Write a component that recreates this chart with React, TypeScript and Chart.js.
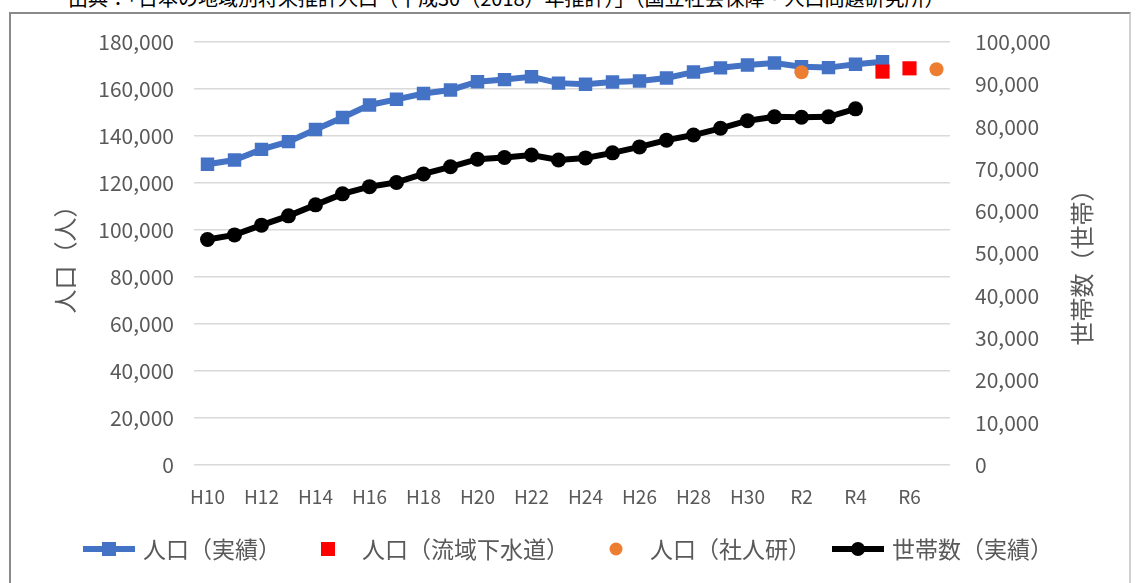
import React, { useEffect, useRef } from "react";
import { Chart, registerables } from "chart.js";

Chart.register(...registerables);

const categories = [
  "H10", "H11", "H12", "H13", "H14", "H15", "H16", "H17", "H18", "H19",
  "H20", "H21", "H22", "H23", "H24", "H25", "H26", "H27", "H28", "H29",
  "H30", "R1", "R2", "R3", "R4", "R5", "R6", "R7",
];

const populationActual = [
  127950, 129800, 134300, 137600, 142800, 147900, 153200, 155600, 158100, 159600,
  163100, 164000, 165200, 162500, 162000, 163000, 163400, 164700, 167200, 169000,
  170200, 171100, 169500, 169100, 170500, 171600, null, null,
];

const populationSewer = [
  null, null, null, null, null, null, null, null, null, null,
  null, null, null, null, null, null, null, null, null, null,
  null, null, null, null, null, 167400, 168800, null,
];

const populationIPSS = [
  null, null, null, null, null, null, null, null, null, null,
  null, null, null, null, null, null, null, null, null, null,
  null, null, 167100, null, null, null, null, 168400,
];

const households = [
  53300, 54400, 56700, 58900, 61500, 64100, 65800, 66800, 68800, 70500,
  72300, 72700, 73300, 72100, 72600, 73800, 75200, 76800, 78000, 79600,
  81400, 82300, 82200, 82300, 84200, null, null, null,
];

const leftTitle = "人口（人）";
const rightTitle = "世帯数（世帯）";
const captionText =
  "出典：「日本の地域別将来推計人口（平成30（2018）年推計）」（国立社会保障・人口問題研究所）";

const FONT = '"Noto Sans CJK JP", "Noto Sans", sans-serif';
const GRAY = "#595959";

const overlayPlugin = {
  id: "overlay",
  afterDraw(chart: any) {
    const ctx = chart.ctx as CanvasRenderingContext2D;
    const area = chart.chartArea;
    ctx.save();
    ctx.fillStyle = GRAY;
    ctx.font = `24px ${FONT}`;
    ctx.textAlign = "center";
    ctx.textBaseline = "middle";
    // left title
    ctx.save();
    ctx.translate(65, (area.top + area.bottom) / 2);
    ctx.rotate(-Math.PI / 2);
    ctx.fillText(leftTitle, 0, 0);
    ctx.restore();
    // right title
    ctx.save();
    ctx.translate(1082, (area.top + area.bottom) / 2 + 8);
    ctx.rotate(-Math.PI / 2);
    ctx.fillText(rightTitle, 0, 0);
    ctx.restore();

    // legend
    const items = chart.data.datasets.map((d: any) => ({
      label: d.label,
      color: d.pointBackgroundColor,
      kind: d.legendKind,
    }));
    const markW = 52;
    const gapText = 8;
    const gapItem = 21;
    ctx.font = `23px ${FONT}`;
    const widths = items.map((it: any) => ctx.measureText(it.label).width);
    let total = 0;
    widths.forEach((w: number, i: number) => {
      total += markW + gapText + w + (i > 0 ? gapItem : 0);
    });
    let x = chart.width / 2 - total / 2;
    const y = 549;
    items.forEach((it: any, i: number) => {
      const cx = x + markW / 2;
      ctx.fillStyle = it.color;
      ctx.strokeStyle = it.color;
      if (it.kind === "lineRect" || it.kind === "lineCircle") {
        ctx.lineWidth = 6;
        ctx.beginPath();
        ctx.moveTo(x, y);
        ctx.lineTo(x + markW, y);
        ctx.stroke();
      }
      if (it.kind === "lineRect" || it.kind === "rect") {
        ctx.fillRect(cx - 7, y - 7, 14, 14);
      } else {
        ctx.beginPath();
        ctx.arc(cx, y, it.kind === "circle" ? 6.5 : 7, 0, Math.PI * 2);
        ctx.fill();
      }
      ctx.fillStyle = GRAY;
      ctx.textAlign = "left";
      ctx.textBaseline = "middle";
      ctx.fillText(it.label, x + markW + gapText, y);
      x += markW + gapText + widths[i] + gapItem;
    });
    ctx.restore();
  },
};

export default function App() {
  const canvasRef = useRef<HTMLCanvasElement | null>(null);

  useEffect(() => {
    if (!canvasRef.current) return;
    const chart = new Chart(canvasRef.current, {
      type: "line",
      data: {
        labels: categories,
        datasets: [
          {
            label: "人口（実績）",
            data: populationActual,
            yAxisID: "y",
            borderColor: "#4472C4",
            backgroundColor: "#4472C4",
            pointBackgroundColor: "#4472C4",
            pointBorderColor: "#4472C4",
            borderWidth: 6,
            pointStyle: "rect",
            pointRadius: 9.5,
            pointBorderWidth: 0,
            tension: 0,
            order: 4,
            legendKind: "lineRect",
          } as any,
          {
            label: "人口（流域下水道）",
            data: populationSewer,
            yAxisID: "y",
            showLine: false,
            borderColor: "#FF0000",
            backgroundColor: "#FF0000",
            pointBackgroundColor: "#FF0000",
            pointBorderColor: "#FF0000",
            pointStyle: "rect",
            pointRadius: 10,
            pointBorderWidth: 0,
            order: 3,
            legendKind: "rect",
          } as any,
          {
            label: "人口（社人研）",
            data: populationIPSS,
            yAxisID: "y",
            showLine: false,
            borderColor: "#ED7D31",
            backgroundColor: "#ED7D31",
            pointBackgroundColor: "#ED7D31",
            pointBorderColor: "#ED7D31",
            pointStyle: "circle",
            pointRadius: 7,
            pointBorderWidth: 0,
            order: 2,
            legendKind: "circle",
          } as any,
          {
            label: "世帯数（実績）",
            data: households,
            yAxisID: "y1",
            borderColor: "#000000",
            backgroundColor: "#000000",
            pointBackgroundColor: "#000000",
            pointBorderColor: "#000000",
            borderWidth: 6,
            pointStyle: "circle",
            pointRadius: 7.5,
            pointBorderWidth: 0,
            tension: 0,
            order: 1,
            legendKind: "lineCircle",
          } as any,
        ],
      },
      options: {
        responsive: false,
        animation: false,
        layout: { padding: { top: 42, bottom: 68, left: 0, right: 0 } },
        plugins: {
          legend: { display: false },
          tooltip: { enabled: false },
        },
        scales: {
          x: {
            offset: true,
            grid: { display: false, drawTicks: false },
            border: { display: false },
            ticks: {
              autoSkip: false,
              maxRotation: 0,
              minRotation: 0,
              padding: 20,
              color: GRAY,
              font: { family: FONT, size: 19 },
              callback: (_v: any, i: number) => (i % 2 === 0 ? categories[i] : ""),
            },
            afterFit: (s: any) => {
              s.height = 50;
            },
          },
          y: {
            position: "left",
            min: 0,
            max: 180000,
            ticks: {
              stepSize: 20000,
              padding: 20,
              color: GRAY,
              font: { family: FONT, size: 21 },
              callback: (v: any) => Number(v).toLocaleString("en-US"),
            },
            grid: { color: "#d9d9d9", lineWidth: 1.5, drawTicks: false },
            border: { display: false },
            afterFit: (s: any) => {
              s.width = 194;
            },
          },
          y1: {
            position: "right",
            min: 0,
            max: 100000,
            ticks: {
              stepSize: 10000,
              padding: 25,
              color: GRAY,
              font: { family: FONT, size: 21 },
              callback: (v: any) => Number(v).toLocaleString("en-US"),
            },
            grid: { display: false, drawTicks: false },
            border: { display: false },
            afterFit: (s: any) => {
              s.width = 186;
            },
          },
        },
      } as any,
      plugins: [overlayPlugin],
    });
    return () => chart.destroy();
  }, []);

  return (
    <div
      style={{
        position: "fixed",
        left: 0,
        top: 0,
        width: 1136,
        height: 583,
        overflow: "hidden",
        background: "#ffffff",
      }}
    >
      <div
        style={{
          position: "absolute",
          left: 68,
          top: -17,
          whiteSpace: "nowrap",
          fontFamily: FONT,
          fontSize: 20,
          color: "#000",
        }}
      >
        {captionText}
      </div>
      <div
        style={{
          position: "absolute",
          left: 9,
          top: 12,
          width: 1122,
          height: 640,
          border: "2px solid #8a8a8a",
          borderRightColor: "#d0d0d0",
          boxSizing: "border-box",
        }}
      />
      <canvas
        ref={canvasRef}
        width={1136}
        height={583}
        style={{ position: "absolute", left: 0, top: 0, width: 1136, height: 583 }}
      />
    </div>
  );
}
